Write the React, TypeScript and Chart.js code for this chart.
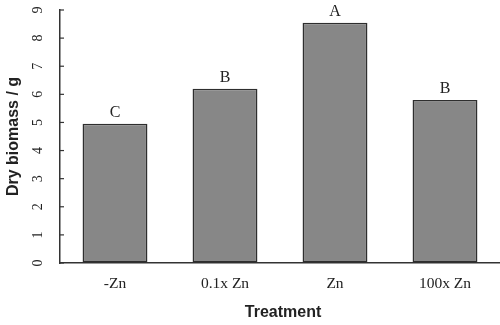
import React, { useEffect, useRef } from "react";
import { Chart, registerables } from "chart.js";

Chart.register(...registerables);

const categories = ["-Zn", "0.1x Zn", "Zn", "100x Zn"];
const biomass = [4.95, 6.2, 8.55, 5.8];
const letters = ["C", "B", "A", "B"];
const yTicks = [0, 1, 2, 3, 4, 5, 6, 7, 8, 9];
const yTitle = "Dry biomass / g";
const xTitle = "Treatment";

const SERIF = '"Liberation Serif", "Times New Roman", serif';
const SANS = '"Liberation Sans", Arial, sans-serif';

const textPlugin = {
  id: "customText",
  afterDraw(chart: any) {
    const ctx = chart.ctx;
    const xs = chart.scales.x;
    const ys = chart.scales.y;
    const area = chart.chartArea;
    ctx.save();
    // inward y ticks
    ctx.strokeStyle = "#333";
    ctx.lineWidth = 1.2;
    yTicks.forEach((v) => {
      const y = ys.getPixelForValue(v);
      ctx.beginPath();
      ctx.moveTo(area.left, y);
      ctx.lineTo(area.left + 4, y);
      ctx.stroke();
    });
    // y tick labels rotated
    ctx.fillStyle = "#222";
    ctx.font = `14px ${SERIF}`;
    ctx.textAlign = "center";
    ctx.textBaseline = "middle";
    yTicks.forEach((v) => {
      const y = ys.getPixelForValue(v);
      ctx.save();
      ctx.translate(38, y);
      ctx.rotate(-Math.PI / 2);
      ctx.fillText(String(v), 0, 0);
      ctx.restore();
    });
    // y title
    ctx.save();
    ctx.font = `bold 16px ${SANS}`;
    ctx.translate(14, (ys.top + ys.bottom) / 2);
    ctx.rotate(-Math.PI / 2);
    ctx.fillText(yTitle, 0, 0);
    ctx.restore();
    // x labels
    ctx.font = `15.5px ${SERIF}`;
    categories.forEach((c, i) => {
      ctx.fillText(c, xs.getPixelForValue(i), 284);
    });
    // x title
    ctx.font = `bold 16px ${SANS}`;
    ctx.fillText(xTitle, (area.left + area.right) / 2 + 3, 313);
    // letters
    ctx.font = `16px ${SERIF}`;
    ctx.textBaseline = "alphabetic";
    letters.forEach((l, i) => {
      const x = xs.getPixelForValue(i);
      const y = ys.getPixelForValue(biomass[i]);
      ctx.fillText(l, x, y - 7);
    });
    ctx.restore();
  },
};

export default function App() {
  const ref = useRef<HTMLCanvasElement | null>(null);
  useEffect(() => {
    if (!ref.current) return;
    const chart = new Chart(ref.current, {
      type: "bar",
      data: {
        labels: categories,
        datasets: [
          {
            data: biomass,
            backgroundColor: "#878787",
            borderColor: "#2e2e2e",
            borderWidth: 1.5,
            borderSkipped: false,
            barPercentage: 0.59,
            categoryPercentage: 1,
          },
        ],
      },
      options: {
        animation: false,
        responsive: false,
        maintainAspectRatio: false,
        layout: { padding: { left: 60, top: 10, right: 0, bottom: 62 } },
        plugins: { legend: { display: false }, tooltip: { enabled: false } },
        scales: {
          x: {
            ticks: { display: false },
            grid: { drawOnChartArea: false, drawTicks: false },
            border: { display: true, color: "#333", width: 1.5 },
          },
          y: {
            min: 0,
            max: 9,
            ticks: { display: false, stepSize: 1 },
            grid: { drawOnChartArea: false, drawTicks: false },
            border: { display: true, color: "#333", width: 1.5 },
          },
        },
      },
      plugins: [textPlugin],
    });
    return () => chart.destroy();
  }, []);
  return (
    <div style={{ position: "fixed", left: 0, top: 0, width: 500, height: 325, background: "#fff" }}>
      <canvas ref={ref} width={500} height={325} style={{ width: 500, height: 325 }} />
    </div>
  );
}
